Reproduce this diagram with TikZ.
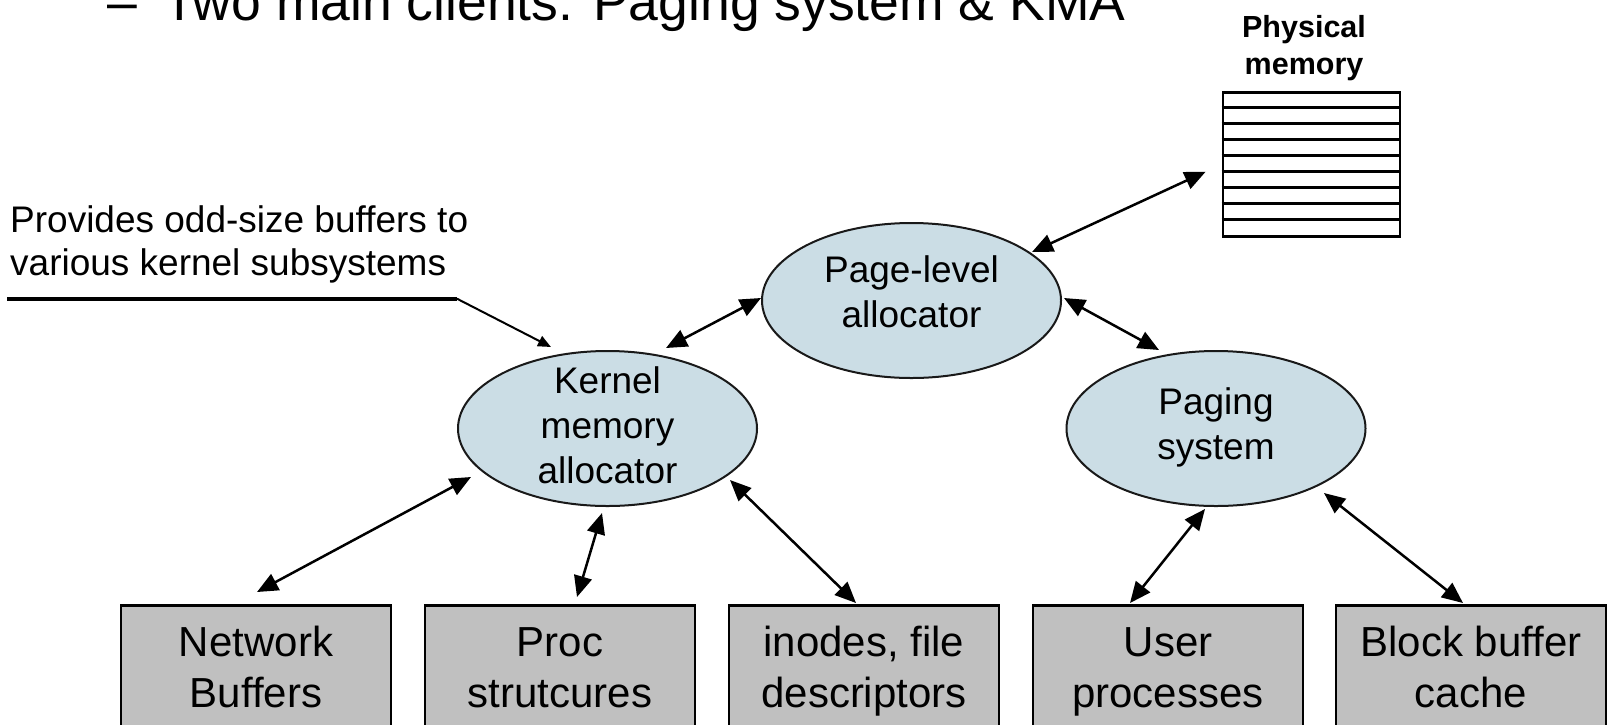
\documentclass[tikz,border=0pt]{standalone}
\usepackage{fontspec}
\setmainfont{Liberation Sans}
\usetikzlibrary{arrows.meta,calc,shapes.geometric}
\definecolor{allocfill}{RGB}{203,221,229}
\definecolor{boxfill}{RGB}{192,192,192}
\begin{document}
\begin{tikzpicture}[x=1pt,y=-1pt,
  alloc/.style={ellipse, draw=black!90, line width=2pt, fill=allocfill,
    minimum width=299pt, minimum height=155pt, inner sep=0pt},
  alloctext/.style={inner sep=0pt, align=center,
    font=\fontsize{37}{45}\selectfont},
  client/.style={rectangle, draw=black, line width=2.5pt, fill=boxfill,
    minimum width=270pt, minimum height=140pt, inner sep=0pt, anchor=north,
    align=center, font=\fontsize{42}{51}\selectfont,
    text height=82pt, text depth=18pt},
  link/.style={line width=2.5pt,
    {Triangle[length=21pt,width=18pt]}-{Triangle[length=21pt,width=18pt]}},
  pointer/.style={line width=2pt, -{Triangle[length=13pt,width=11pt]}},
]
\clip (0,0) rectangle (1608,724);
\fill[white] (0,0) rectangle (1608,724);

% heading line
\node[anchor=base west, inner sep=0pt, font=\fontsize{53.5}{60}\selectfont]
  (dash) at (107,20.7) {–};
\node[anchor=base west, inner sep=0pt, font=\fontsize{53.5}{60}\selectfont]
  (heading) at (163,20.7) {Two main clients: Paging system \& KMA};

% physical memory
\node[inner sep=0pt, align=center, font=\bfseries\fontsize{30.5}{36.7}\selectfont,
  text height=58.7pt, text depth=7pt] (memlabel) at (1304,48.15) {Physical\\memory};
\node[rectangle, draw=black, line width=2.7pt, fill=white, minimum width=177pt,
  minimum height=144pt, inner sep=0pt] (mem) at (1311.5,164.7) {};
\foreach \i in {1,...,8}
  \draw[line width=2.7pt] ($(mem.north west)+(0,16*\i)$) -- ($(mem.north east)+(0,16*\i)$);

% allocators
\node[alloc] (pla) at (911.5,300.5) {};
\node[alloctext, text height=72pt, text depth=19pt] (pla-text) at (pla) {Page-level\\allocator};
\node[alloc] (kma) at (607.5,428.5) {};
\node[alloctext, text height=117pt, text depth=8pt] (kma-text) at (kma) {Kernel\\memory\\allocator};
\node[alloc] (paging) at (1216,428.5) {};
\node[alloctext, text height=72pt, text depth=11pt] (paging-text) at (paging) {Paging\\system};

% clients
\node[client] (net)    at (256,604)  {Network\\Buffers};
\node[client] (proc)   at (560,604)  {Proc\\strutcures};
\node[client] (inodes) at (864,604)  {inodes, file\\descriptors};
\node[client] (user)   at (1168,604) {User\\processes};
\node[client] (block)  at (1471,604) {Block buffer\\cache};

% annotation
\node[anchor=west, inner sep=0pt, align=left, font=\fontsize{37}{42.7}\selectfont,
  text height=69.7pt, text depth=8pt] (note) at (10,244.15)
  {Provides odd-size buffers to\\various kernel subsystems};
\coordinate (rule-start) at (7,298.7);
\coordinate (rule-end) at (457,298.7);
\draw[line width=4.2pt] (rule-start) -- (rule-end);
\draw[pointer] (rule-end) -- ($(kma)+(-56.5,-81.5)$);

% connections
\draw[link] ($(mem.west)+(-16,7)$) -- ($(pla)+(120.5,-48.5)$);
\draw[link] ($(pla)+(-150.5,-2.5)$) -- ($(kma)+(58.5,-80.5)$);
\draw[link] ($(pla)+(152.5,-2.5)$) -- ($(paging)+(-57,-78.5)$);
\draw[link] ($(kma)+(-136.5,48.5)$) -- ($(net.north)+(1,-12)$);
\draw[link] ($(kma)+(-5.5,84.5)$) -- ($(proc.north)+(17,-7)$);
\draw[link] ($(kma)+(122.5,51.5)$) -- ($(inodes.north)+(-8,-1)$);
\draw[link] ($(paging)+(-11,80.5)$) -- ($(user.north)+(-38,-1)$);
\draw[link] ($(paging)+(108,64.5)$) -- ($(block.north)+(-8,-1)$);
\end{tikzpicture}
\end{document}
